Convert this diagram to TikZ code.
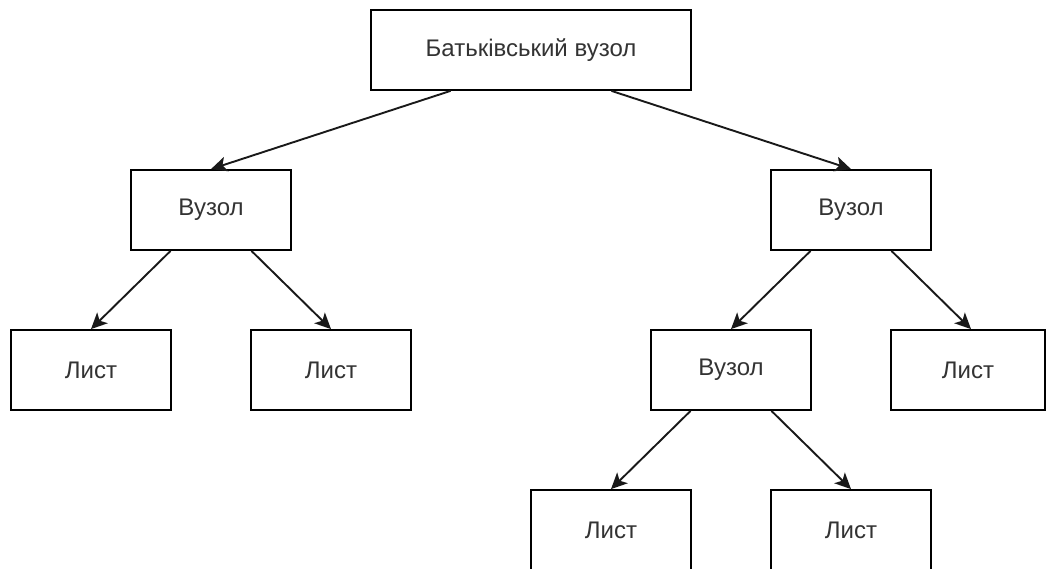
\documentclass[tikz,border=0pt]{standalone}
\usepackage{fontspec}
\setmainfont{Liberation Sans}
\usetikzlibrary{arrows.meta,calc}
\begin{document}
\begin{tikzpicture}[x=1pt,y=-1pt,
  box/.style={draw=black, line width=1.8pt, fill=white,
    minimum width=160pt, minimum height=80pt, inner sep=0pt,
    font=\fontsize{24}{28}\selectfont, text=black!80},
  link/.style={line width=1.9pt, draw=black!90,
    -{Stealth[length=16pt,width=15pt,inset=4pt]}}]
\useasboundingbox (0,0) rectangle (1046,569);
\clip (0,0) rectangle (1046,569);

% tree nodes
\node[box, minimum width=320pt] (root) at (531,50) {Батьківський вузол};
\node[box] (v1) at (211,210) {Вузол};
\node[box] (v2) at (851,210) {Вузол};
\node[box] (l1) at (91,370) {Лист};
\node[box] (l2) at (331,370) {Лист};
\node[box] (v3) at (731,370) {Вузол};
\node[box, minimum width=154pt] (l3) at (968,370) {Лист};
\node[box] (l4) at (611,530) {Лист};
\node[box] (l5) at (851,530) {Лист};

% edges leave the parent at a quarter and three quarters of its bottom side
\draw[link] ($(root.south west)!0.25!(root.south east)$) -- (v1.north);
\draw[link] ($(root.south west)!0.75!(root.south east)$) -- (v2.north);
\draw[link] ($(v1.south west)!0.25!(v1.south east)$) -- (l1.north);
\draw[link] ($(v1.south west)!0.75!(v1.south east)$) -- (l2.north);
\draw[link] ($(v2.south west)!0.25!(v2.south east)$) -- (v3.north);
\draw[link] ($(v2.south west)!0.75!(v2.south east)$) -- ([xshift=3pt]l3.north);
\draw[link] ($(v3.south west)!0.25!(v3.south east)$) -- (l4.north);
\draw[link] ($(v3.south west)!0.75!(v3.south east)$) -- (l5.north);
\end{tikzpicture}
\end{document}
